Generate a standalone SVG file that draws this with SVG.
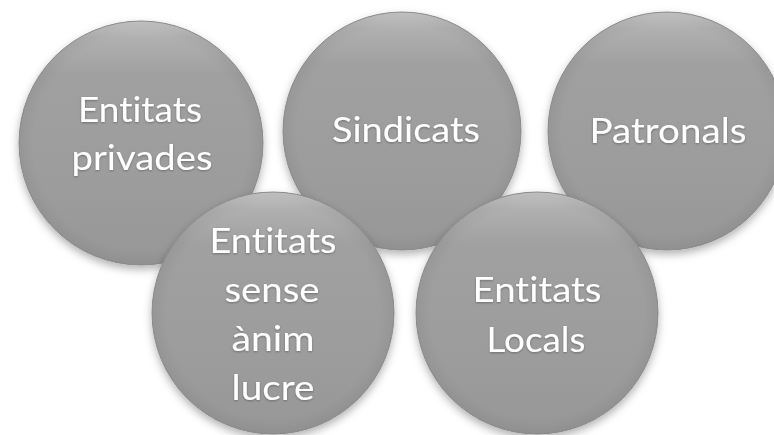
<svg xmlns="http://www.w3.org/2000/svg" width="774" height="435" viewBox="0 0 774 435">
  <defs>
    <linearGradient id="ball" x1="0" y1="0" x2="0" y2="1">
      <stop offset="0" stop-color="#c8c8c8"/>
      <stop offset="0.07" stop-color="#b0b0b0"/>
      <stop offset="0.22" stop-color="#a0a0a0"/>
      <stop offset="0.7" stop-color="#9c9c9c"/>
      <stop offset="1" stop-color="#979797"/>
    </linearGradient>
    <radialGradient id="rim" cx="0.5" cy="0.5" r="0.5">
      <stop offset="0.88" stop-color="#000" stop-opacity="0"/>
      <stop offset="1" stop-color="#000" stop-opacity="0.05"/>
    </radialGradient>
    <filter id="shadow" x="-20%" y="-20%" width="140%" height="150%">
      <feDropShadow dx="0" dy="4" stdDeviation="4" flood-color="#000" flood-opacity="0.3"/>
    </filter>
    <filter id="tshadow" x="-10%" y="-20%" width="120%" height="150%">
      <feDropShadow dx="0" dy="1" stdDeviation="1.2" flood-color="#000" flood-opacity="0.3"/>
    </filter>
  </defs>
  <style>
    .ball { fill: url(#ball); stroke: #8e8e8e; stroke-width: 1; }
    .rim { fill: url(#rim); }
    .lbl { font-family: Lato, "Open Sans", "Liberation Sans", sans-serif; font-size: 35px; fill: #ffffff; text-anchor: middle; font-variant-ligatures: none; font-feature-settings: "liga" 0, "clig" 0; }
  </style>
  <g id="connectors"/>
  <g id="node-privades" filter="url(#shadow)">
    <circle class="ball" cx="141" cy="143" r="122"/>
    <circle class="rim" cx="141" cy="143" r="122"/>
    <g filter="url(#tshadow)">
      <text class="lbl" x="140" y="122" textLength="124" lengthAdjust="spacingAndGlyphs">Entitats</text>
      <text class="lbl" x="142" y="170" textLength="141" lengthAdjust="spacingAndGlyphs">privades</text>
    </g>
  </g>
  <g id="node-sindicats" filter="url(#shadow)">
    <circle class="ball" cx="402" cy="131" r="119"/>
    <circle class="rim" cx="402" cy="131" r="119"/>
    <g filter="url(#tshadow)">
      <text class="lbl" x="406" y="142" textLength="148" lengthAdjust="spacingAndGlyphs">Sindicats</text>
    </g>
  </g>
  <g id="node-patronals" filter="url(#shadow)">
    <circle class="ball" cx="667" cy="131" r="119"/>
    <circle class="rim" cx="667" cy="131" r="119"/>
    <g filter="url(#tshadow)">
      <text class="lbl" x="668" y="143" textLength="157" lengthAdjust="spacingAndGlyphs">Patronals</text>
    </g>
  </g>
  <g id="node-sense-anim-lucre" filter="url(#shadow)">
    <circle class="ball" cx="273" cy="313" r="121"/>
    <circle class="rim" cx="273" cy="313" r="121"/>
    <g filter="url(#tshadow)">
      <text class="lbl" x="273" y="253" textLength="127" lengthAdjust="spacingAndGlyphs">Entitats</text>
      <text class="lbl" x="272" y="302" textLength="95" lengthAdjust="spacingAndGlyphs">sense</text>
      <text class="lbl" x="273" y="351" textLength="83" lengthAdjust="spacingAndGlyphs">ànim</text>
      <text class="lbl" x="273" y="400" textLength="83" lengthAdjust="spacingAndGlyphs">lucre</text>
    </g>
  </g>
  <g id="node-locals" filter="url(#shadow)">
    <circle class="ball" cx="537" cy="313" r="121"/>
    <circle class="rim" cx="537" cy="313" r="121"/>
    <g filter="url(#tshadow)">
      <text class="lbl" x="537" y="302" textLength="129" lengthAdjust="spacingAndGlyphs">Entitats</text>
      <text class="lbl" x="536" y="352" textLength="99" lengthAdjust="spacingAndGlyphs">Locals</text>
    </g>
  </g>
</svg>
